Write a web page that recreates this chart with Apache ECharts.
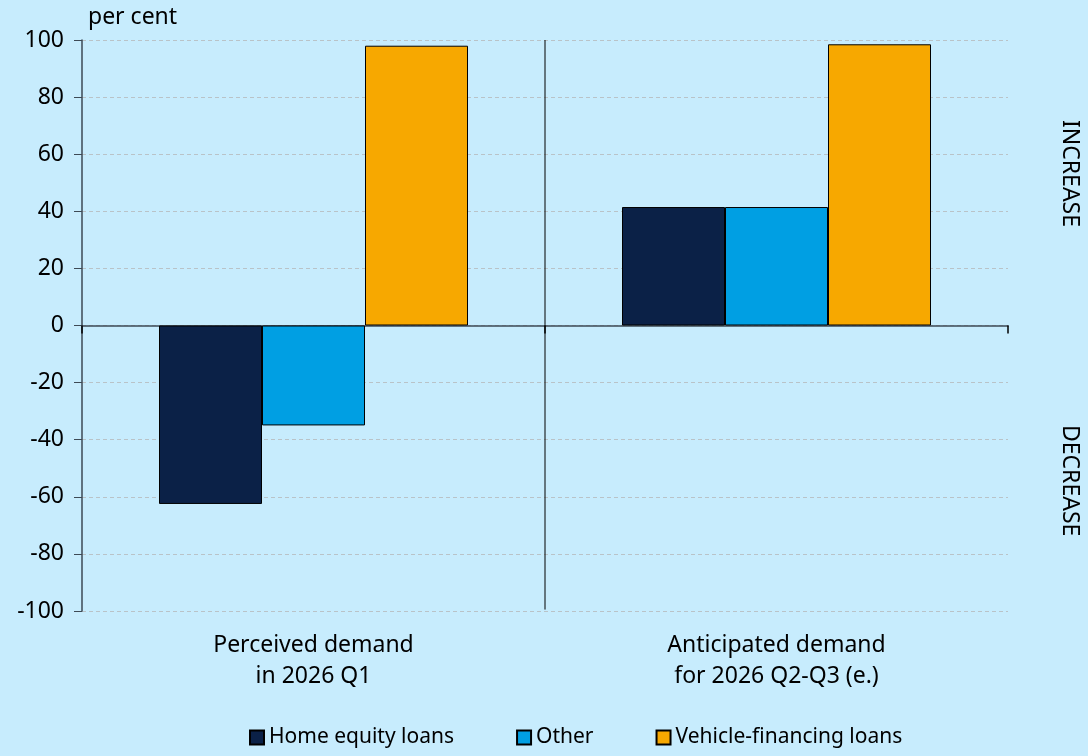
<!DOCTYPE html>
<html lang="en">
<head>
    <meta charset="utf-8">
    <script src="https://cdn.jsdelivr.net/npm/echarts@6/dist/echarts.min.js"></script>
    <style>
        html, body { margin:0; padding:0; background:#C7ECFD; }
        #main { width:1088px; height:756px; }
    </style>
</head>
<body>
<div id="main"></div>
<script type="text/javascript">
    // categories and values
    var categories = ['Perceived demand\nin 2026 Q1', 'Anticipated demand\nfor 2026 Q2-Q3 (e.)'];
    var homeEquity = [-62.5, 41.5];
    var other = [-35.0, 41.5];
    var vehicle = [98.0, 98.5];
    var yTicks = [-100, -80, -60, -40, -20, 0, 20, 40, 60, 80, 100];

    var chart = echarts.init(document.getElementById('main'));
    var font = '"Noto Sans", sans-serif';
    var barBorder = { borderColor:'#000', borderWidth:1 };

    chart.setOption({
        backgroundColor:'#C7ECFD',
        textStyle:{ fontFamily:font },
        grid:{ left:82, right:80, top:40, bottom:145 },
        legend:{
            bottom:3,
            left:244,
            itemWidth:14, itemHeight:14, itemGap:62,
            icon:'rect',
            textStyle:{ fontSize:21, color:'#000', fontFamily:font },
            data:['Home equity loans', 'Other', 'Vehicle-financing loans']
        },
        xAxis:[{
            type:'category',
            data:categories,
            position:'bottom',
            axisLine:{ show:false, onZero:false },
            axisTick:{ show:false },
            axisLabel:{ fontSize:23, color:'#000', lineHeight:31, margin:19 }
        }, {
            type:'category',
            data:categories,
            position:'bottom',
            axisLine:{ onZero:true, lineStyle:{ color:'#3d4a55', width:1.5 } },
            axisTick:{ show:true, length:8, lineStyle:{ color:'#000', width:1.5 } },
            axisLabel:{ show:false }
        }, {
            type:'value', min:0, max:2, show:false
        }],
        yAxis:{
            type:'value',
            min:-100, max:100, interval:20,
            name:'per cent',
            nameLocation:'end',
            nameGap:11,
            nameTextStyle:{ fontSize:23, color:'#000', align:'left', padding:[0,0,0,6] },
            axisLine:{ show:true, lineStyle:{ color:'#3d4a55', width:1.5 } },
            axisTick:{ show:true, length:8, lineStyle:{ color:'#3d4a55' } },
            axisLabel:{ fontSize:23, color:'#000', margin:18,
                formatter:function (v) { return yTicks.indexOf(v) >= 0 ? String(v) : ''; } },
            splitLine:{ show:true, lineStyle:{ color:'#b9c3c8', type:[4,3] } }
        },
        series:[{
            name:'Home equity loans', type:'bar', data:homeEquity,
            barWidth:103, barGap:'0%',
            itemStyle:Object.assign({ color:'#0B2147' }, barBorder)
        }, {
            name:'Other', type:'bar', data:other,
            barWidth:103, barGap:'0%',
            itemStyle:Object.assign({ color:'#009FE3' }, barBorder)
        }, {
            name:'Vehicle-financing loans', type:'bar', data:vehicle,
            barWidth:103, barGap:'0%',
            itemStyle:Object.assign({ color:'#F7A800' }, barBorder)
        }, {
            // divider between the two groups
            name:'divider', type:'line', xAxisIndex:2,
            data:[[1, -99.5], [1, 100]],
            symbol:'none', silent:true,
            lineStyle:{ color:'#000', width:1 }
        }],
        graphic:[{
            type:'text', left:1058, top:120, rotation:-Math.PI / 2,
            style:{ text:'INCREASE', fontSize:23, fill:'#000', fontFamily:font }
        }, {
            type:'text', left:1058, top:425, rotation:-Math.PI / 2,
            style:{ text:'DECREASE', fontSize:23, fill:'#000', fontFamily:font }
        }]
    });
</script>
</body>
</html>
